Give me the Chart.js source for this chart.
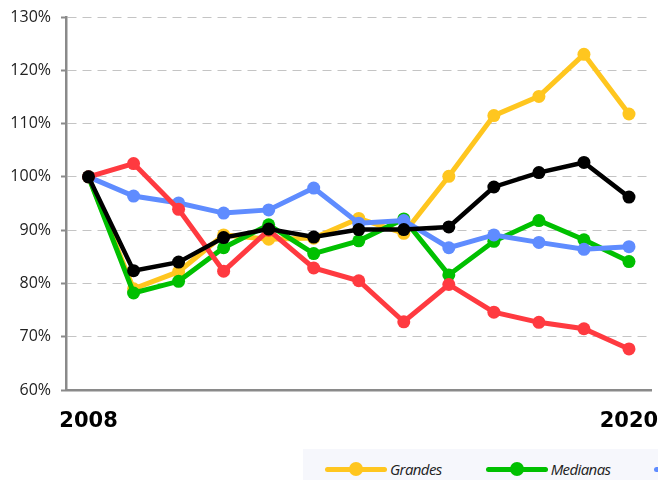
<!DOCTYPE html>
<html lang="es">

<head>
    <meta charset="utf-8">
    <meta name="viewport" content="width=device-width">
    <title>Evolución por tamaño</title>
    <script src="https://cdn.jsdelivr.net/npm/chart.js"></script>
    <style>
        html, body { margin: 0; padding: 0; background: #fff; overflow: hidden; }
        #wrap { position: relative; width: 658px; height: 480px; overflow: hidden; }
        #legend {
            position: absolute; left: 303px; top: 449px; width: 600px; height: 40px;
            background: #f6f7fc; display: flex; align-items: center; padding-left: 22px;
            box-sizing: border-box; font-family: "Open Sans", sans-serif; font-style: italic;
            font-size: 15px; color: #222; letter-spacing: -0.6px;
        }
        .item { display: flex; align-items: center; margin-right: 44px; height: 36px; }
        .mark { position: relative; width: 62px; height: 14px; margin-right: 3px; }
        .mark .ln { position: absolute; left: 0; top: 4.5px; width: 62px; height: 5px; border-radius: 3px; }
        .mark .dt { position: absolute; left: 24px; top: 0; width: 14px; height: 14px; border-radius: 50%; }
    </style>
</head>
<body>
<div id="wrap">
    <canvas id="chart" width="658" height="480"></canvas>
    <div id="legend"></div>
</div>

<script>
    const years = ['2008', '2009', '2010', '2011', '2012', '2013', '2014', '2015', '2016', '2017', '2018', '2019', '2020']

    const grandes = [100, 79.0, 82.2, 89.1, 88.3, 88.5, 92.2, 89.4, 100.1, 111.5, 115.1, 123.0, 111.8]
    const medianas = [100, 78.2, 80.4, 86.7, 91.0, 85.6, 88.0, 92.1, 81.6, 87.9, 91.8, 88.2, 84.1]
    const pequenas = [100, 96.4, 95.1, 93.2, 93.8, 97.9, 91.3, 91.8, 86.7, 89.1, 87.7, 86.4, 86.9]
    const micro = [100, 102.5, 93.9, 82.3, 90.0, 82.9, 80.5, 72.8, 79.8, 74.6, 72.7, 71.5, 67.7]
    const total = [100, 82.4, 84.0, 88.6, 90.2, 88.7, 90.1, 90.1, 90.6, 98.1, 100.8, 102.7, 96.2]

    const yTicks = [60, 70, 80, 90, 100, 110, 120, 130]

    function line(label, data, color, width, order) {
        return {
            label: label,
            data: data,
            borderColor: color,
            backgroundColor: color,
            pointBackgroundColor: color,
            pointBorderWidth: 0,
            pointRadius: 6.5,
            borderWidth: width,
            tension: 0,
            order: order
        }
    }

    const chart = new Chart(document.getElementById('chart'), {
        type: 'line',
        data: {
            labels: years,
            datasets: [
                line('Grandes', grandes, '#ffc61f', 5, 5),
                line('Medianas', medianas, '#00c000', 5, 4),
                line('Pequeñas', pequenas, '#5f8cff', 5, 3),
                line('Micro', micro, '#ff3a40', 5, 2),
                line('Total', total, '#000000', 4.5, 1)
            ]
        },
        options: {
            responsive: false,
            animation: false,
            layout: { padding: { top: 17, right: 6, left: 0, bottom: 0 } },
            plugins: {
                legend: { display: false },
                tooltip: { enabled: false }
            },
            scales: {
                x: {
                    offset: true,
                    grid: { display: false, drawTicks: false },
                    border: { display: true, color: '#8a8a8a', width: 2.5 },
                    ticks: {
                        autoSkip: false,
                        maxRotation: 0,
                        padding: 19,
                        color: '#000',
                        font: { family: 'DejaVu Sans', weight: 'bold', size: 21 },
                        callback: function (v, i) {
                            return (i === 0 || i === years.length - 1) ? years[i] : ''
                        }
                    },
                    afterFit: function (s) {
                        s.height = 90
                        s.paddingLeft = 0
                        s.paddingRight = 0
                    }
                },
                y: {
                    min: yTicks[0],
                    max: yTicks[yTicks.length - 1],
                    afterBuildTicks: function (s) { s.ticks = yTicks.map(v => ({ value: v })) },
                    grid: { color: '#c4c4c4', lineWidth: 1, tickLength: 5, tickColor: '#8a8a8a', tickWidth: 2 },
                    border: { display: true, color: '#8a8a8a', width: 2.5, dash: [9, 6] },
                    ticks: {
                        padding: 10,
                        color: '#222',
                        font: { family: 'Open Sans', size: 16 },
                        callback: function (v) { return v + '%' }
                    },
                    afterFit: function (s) {
                        s.width = 66
                        s.paddingTop = 0
                        s.paddingBottom = 0
                    }
                }
            }
        }
    })

    // legend built from the datasets
    const legend = document.getElementById('legend')
    chart.data.datasets.forEach(function (ds) {
        const item = document.createElement('div')
        item.className = 'item'
        item.innerHTML = '<span class="mark"><span class="ln" style="background:' + ds.borderColor +
            '"></span><span class="dt" style="background:' + ds.borderColor + '"></span></span><span>' +
            ds.label + '</span>'
        legend.appendChild(item)
    })
</script>
</body>
</html>
